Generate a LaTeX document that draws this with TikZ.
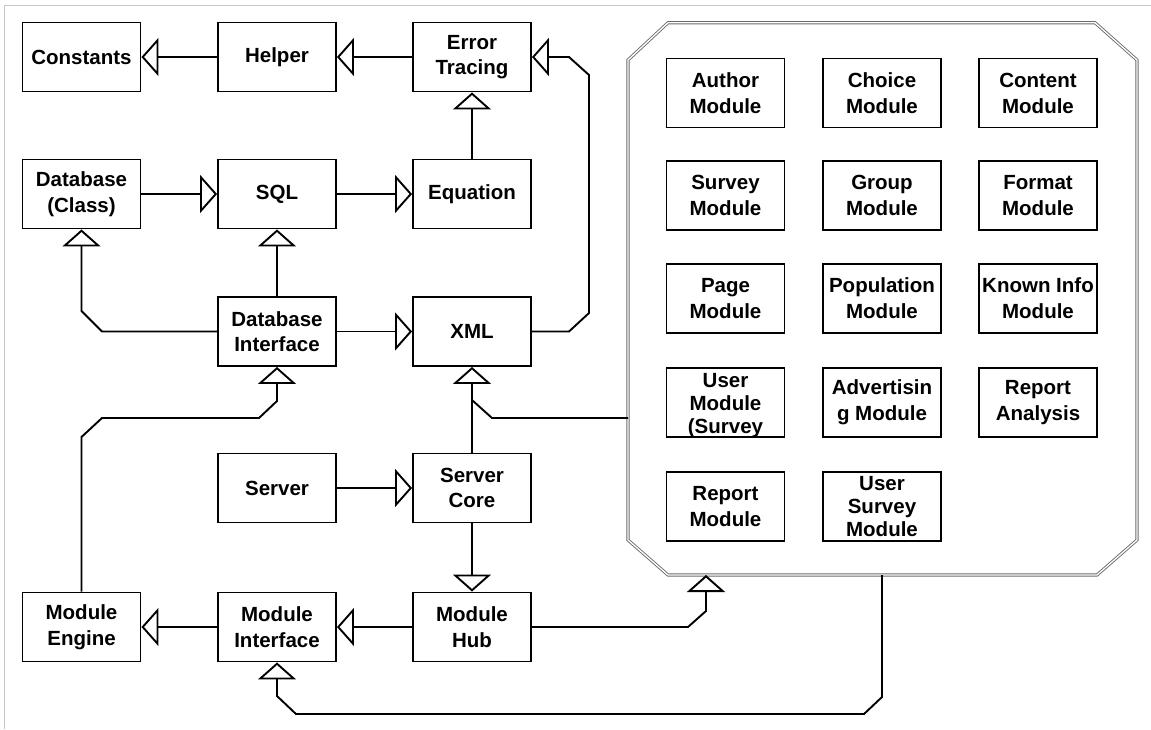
\documentclass[tikz,border=0pt]{standalone}
\usepackage{fontspec}
\setmainfont{Liberation Sans}
\usetikzlibrary{arrows.meta}
\begin{document}
\begin{tikzpicture}[x=1pt,y=-1pt,
  box/.style={draw=black,line width=1.9pt,rectangle,minimum width=118pt,minimum height=69pt,inner sep=0pt,align=center,font=\fontsize{20.5}{25.5}\selectfont\bfseries},
  mbox/.style={box,font=\fontsize{20.5}{26}\selectfont\bfseries},
  tbox/.style={box,font=\fontsize{20.5}{23}\selectfont\bfseries},
  conn/.style={draw=black,line width=1.9pt},
  tri/.style={conn,-{Triangle[open,length=17pt,width=38pt,line width=1.9pt]}},
  panelline/.style={draw=gray!85!black,line width=0.9pt,double=white,double distance=1.3pt},
  frameline/.style={draw=gray!45,line width=1pt}]
\useasboundingbox (0,0) rectangle (1151,729);
\fill[white] (0,0) rectangle (1151,729);
% outer frame lines
\draw[frameline] (4,5) -- (1151,5);
\draw[frameline] (4,5) -- (4,729);
% left part
\node[box] (constants) at (81.5,57) {Constants};
\node[box] (helper) at (277,57) {Helper};
\node[box] (error) at (472,57) {Error\\Tracing};
\node[box] (dbclass) at (81.5,194) {Database\\(Class)};
\node[box] (sql) at (277,194) {SQL};
\node[box] (equation) at (472,194) {Equation};
\node[box] (dbi) at (277,331.5) {Database\\Interface};
\node[box] (xml) at (472,331.5) {XML};
\node[box] (server) at (277,488) {Server};
\node[box] (core) at (472,488) {Server\\Core};
\node[box] (me) at (81.5,627) {Module\\Engine};
\node[box] (mi) at (277,627) {Module\\Interface};
\node[box] (hub) at (472,627) {Module\\Hub};
% module panel
\draw[panelline] (668,22.7) -- (1095,22.7) -- (1137,60) -- (1137,540) -- (1097,575) -- (668,575) -- (628,540) -- (628,60) -- cycle;
\coordinate (panelW) at (628,418);
\coordinate (panelB1) at (706,575);
\coordinate (panelB2) at (882,575);
\node[mbox] (author) at (725.5,93) {Author\\Module};
\node[mbox] (choice) at (882,93) {Choice\\Module};
\node[mbox] (content) at (1038,93) {Content\\Module};
\node[mbox] (survey) at (725.5,195.5) {Survey\\Module};
\node[mbox] (group) at (882,195.5) {Group\\Module};
\node[mbox] (format) at (1038,195.5) {Format\\Module};
\node[mbox] (page) at (725.5,298.5) {Page\\Module};
\node[mbox] (population) at (882,298.5) {Population\\Module};
\node[mbox] (known) at (1038,298.5) {Known Info\\Module};
\node[box] (usermod) at (725.5,402.5) {};
\node[tbox,draw=none] (usermodtxt) at (725.5,406) {User\\Module\\(Survey};
\node[mbox] (advert) at (882,402.5) {Advertisin\\g Module};
\node[mbox] (ranalysis) at (1038,402.5) {Report\\Analysis};
\node[mbox] (report) at (725.5,506.5) {Report\\Module};
\node[tbox] (usersurvey) at (882,506.5) {User\\Survey\\Module};
% connectors
\draw[tri] (helper.west) -- (constants.east);
\draw[tri] (error.west) -- (helper.east);
\draw[tri] (equation.north) -- (error.south);
\draw[tri] (dbclass.east) -- (sql.west);
\draw[tri] (sql.east) -- (equation.west);
\draw[tri] (dbi.west) -- (102,331.5) -- (81.5,311) -- (dbclass.south);
\draw[tri] (dbi.north) -- (sql.south);
\draw[tri] (dbi.east) -- (xml.west);
\draw[tri] (xml.east) -- (569,331.5) -- (589,313) -- (589,75) -- (569,57) -- (error.east);
\draw[tri] (server.east) -- (core.west);
\draw[tri] (core.north) -- (xml.south);
\draw[conn] (panelW) -- (492,418) -- (472,400);
\draw[tri] (core.south) -- (hub.north);
\draw[tri] (hub.west) -- (mi.east);
\draw[tri] (mi.west) -- (me.east);
\draw[tri] (me.north) -- (81.5,437) -- (102,418) -- (259,418) -- (277,401) -- (dbi.south);
\draw[tri] (hub.east) -- (688,627) -- (706,611) -- (panelB1);
\draw[tri] (panelB2) -- (882,697) -- (864,714) -- (296,714) -- (277,696) -- (mi.south);
\end{tikzpicture}
\end{document}
